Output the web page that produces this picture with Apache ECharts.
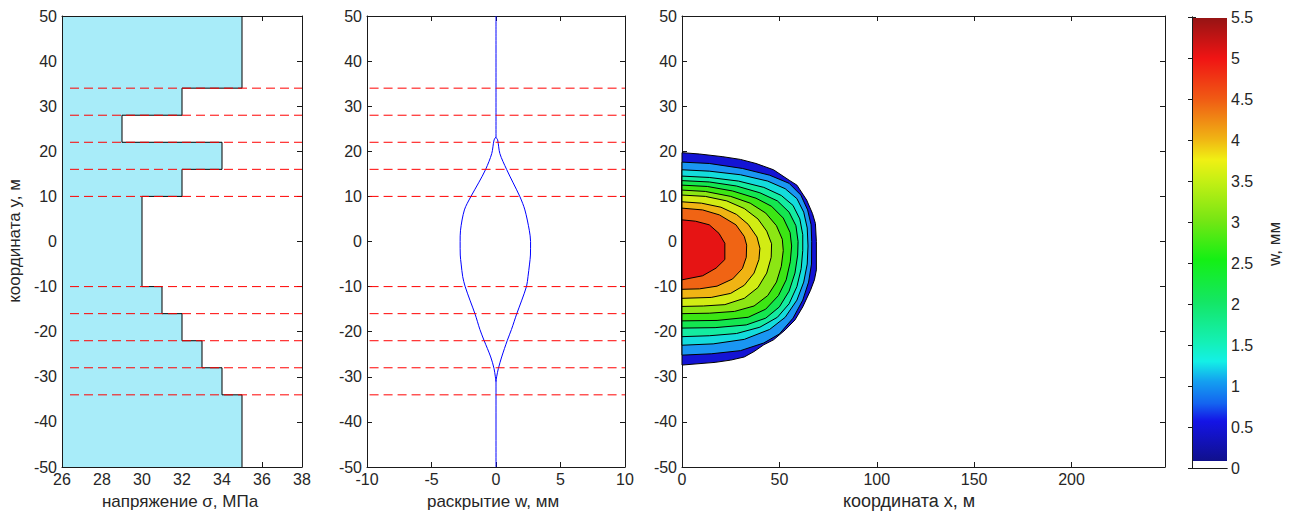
<!DOCTYPE html>
<html><head><meta charset="utf-8">
<script src="https://cdn.jsdelivr.net/npm/echarts@6/dist/echarts.min.js"></script>
<style>html,body{margin:0;padding:0;background:#fff}#c{width:1302px;height:524px}</style>
</head><body><div id="c"></div>
<script>
// ---- panel 1: stress in layers
const layerTop = [50, 34, 28, 22, 16, 10, -10, -16, -22, -28, -34];
const layerBot = [34, 28, 22, 16, 10, -10, -16, -22, -28, -34, -50];
const sigma    = [35, 32, 29, 34, 32, 30, 31, 32, 33, 34, 35];
const bounds   = [34, 28, 22, 16, 10, -10, -16, -22, -28, -34];

// ---- panel 2: crack opening profile
const yProf = [23.2, 22.5, 19.5, 16, 13, 9.9, 7, 2.5, 0, -3, -5, -7.8, -9.9, -13, -16.1, -19.5, -21.9, -25.6, -28.2, -30, -31.1];
const wRight = [0, 0.13, 0.3, 0.82, 1.33, 1.86, 2.24, 2.58, 2.68, 2.67, 2.6, 2.48, 2.37, 2.0, 1.6, 1.2, 0.88, 0.44, 0.18, 0.05, 0];
const wLeft  = [0, -0.15, -0.33, -0.8, -1.35, -1.96, -2.45, -2.75, -2.78, -2.77, -2.7, -2.58, -2.4, -2.02, -1.62, -1.25, -0.93, -0.41, -0.15, -0.05, 0];

// ---- panel 3: filled contours of w (x, y points of each level line)
const levels = [0.1, 0.5, 1, 1.5, 2, 2.5, 3, 3.5, 4, 4.5, 5];
const bandColors = ['#1414d4', '#1a96f2', '#14dcdc', '#14eca0', '#14e650', '#3ce614', '#8ce614', '#d2ec14', '#f0b414', '#f06414', '#e61414'];
const lvl01 = [[0,19.7],[9,19.4],[21,18.8],[30,18.2],[38,17.3],[47,15.9],[55,13.6],[59,12.5],[64,9.2],[67,6.2],[68.5,4],[69,0],[69,-6.3],[68,-8.5],[66,-10.8],[62,-14.5],[58,-17.4],[53,-19.6],[47,-21.8],[42,-22.9],[37,-24.4],[32,-25.6],[25,-26.3],[17,-26.8],[0,-27.4]];
const lvl05 = [[0,17.6],[14,17.3],[31,16.2],[45,14.7],[55,12.9],[61,10.3],[64.5,7],[66.3,3.7],[66.6,0],[66.5,-5],[65,-9],[62,-13],[57,-17],[50,-20.5],[42,-22.5],[30,-24.2],[15,-24.9],[0,-25.2]];
const lvl10 = [[0,15.9],[14,15.6],[30,14.8],[44,13.4],[53,11.7],[59,9.5],[62.5,6.5],[64.3,3],[64.7,-1],[64.3,-5],[62.5,-9],[59,-13],[53,-16.8],[45,-19.5],[32,-21.7],[16,-22.7],[0,-23.0]];
const lvl15 = [[0,14.5],[14,14.2],[29,13.4],[42,12],[51,10.2],[57,8],[60.5,5],[62,1.5],[62,-2],[61.2,-6],[59,-10],[55,-13.8],[49,-16.8],[40,-19],[28,-20.4],[14,-20.9],[0,-21.1]];
const lvl20 = [[0,13.5],[14,13.2],[28,12.3],[40,10.8],[49,9],[55,6.5],[58.5,3.5],[59.6,0],[59.4,-3],[58,-7],[55,-11],[50,-14.5],[43,-17],[33,-18.5],[17,-19.1],[0,-19.2]];
const lvl25 = [[0,12.5],[13,12.2],[26,11.2],[38,9.6],[46,7.8],[52,5.2],[55.5,2],[56.3,-1],[55.6,-4.5],[53.5,-8.5],[49.5,-12],[43,-15],[34,-16.8],[18,-17.5],[0,-17.6]];
const lvl30 = [[0,11.4],[12,11.1],[25,10],[35,8.5],[43,6.3],[48.5,3.5],[51.5,0.5],[52,-2],[51,-5.5],[48.5,-9],[44,-12],[37,-14.3],[27,-15.5],[14,-15.9],[0,-16.0]];
const lvl35 = [[0,10.3],[12,10],[23,9],[32,7.3],[39,5],[43.5,2.3],[46,-0.5],[45.8,-3.5],[43.5,-7],[39,-10.2],[32,-12.6],[22,-14],[11,-14.3],[0,-14.4]];
const lvl40 = [[0,8.8],[10,8.5],[20,7.6],[28,6],[34,3.8],[38.5,1],[40,-1.5],[39.5,-4],[37,-7],[32,-9.7],[25,-11.5],[15,-12.4],[0,-12.6]];
const lvl45 = [[0,7.4],[10.6,7],[19.2,5.9],[27.7,3.7],[32,1.1],[33.2,-0.8],[33,-3.5],[31,-6],[26,-8.3],[18,-9.9],[9,-10.5],[0,-10.6]];
const lvl50 = [[0,4.8],[7,4.5],[14,3.7],[19,1.8],[22,-0.4],[22,-4],[17.5,-5.9],[10.6,-7.6],[0,-8.5]];
const contourLines = [lvl01, lvl05, lvl10, lvl15, lvl20, lvl25, lvl30, lvl35, lvl40, lvl45, lvl50];

// colorbar map (fraction of 0..5.5, colour)
const cmapStops = [[0,'#10108c'],[0.09,'#1414e6'],[0.13,'#1464f0'],[0.18,'#14a0f0'],[0.225,'#14f0e6'],[0.27,'#14f0b4'],[0.36,'#14e664'],[0.455,'#14f014'],[0.545,'#78e614'],[0.636,'#c8f014'],[0.68,'#f0f014'],[0.727,'#f0b414'],[0.818,'#f05a14'],[0.909,'#f01414'],[1,'#961414']];

const FONT = '"Liberation Sans", Arial, sans-serif';
const FS = 16, FT = 17;
const AX = '#1a1a1a', TXT = '#262626', FILL = '#a8ecf9';
const lab = {color: TXT, fontFamily: FONT, fontSize: FS};

function axes(kind, grid, min, max, interval, showLab, fmt){
  const base = {type:'value', gridIndex:grid, min, max, interval, splitLine:{show:false},
    axisLine:{show:true, onZero:false, lineStyle:{color:AX, width:1}},
    axisTick:{show:true, inside:true, length:5, lineStyle:{color:AX}}};
  const a = Object.assign({}, base, {position: kind === 'x' ? 'bottom' : 'left',
    axisLabel: Object.assign({show: showLab, margin: kind === 'x' ? 4 : 5}, lab, fmt ? {formatter: fmt} : {})});
  const b = Object.assign({}, base, {position: kind === 'x' ? 'top' : 'right', axisLabel:{show:false}});
  return [a, b];
}

const gridBase = {top:16, height:451, containLabel:false, outerBoundsMode:'none'};
const grids = [
  Object.assign({left:62, width:240}, gridBase),
  Object.assign({left:367, width:258}, gridBase),
  Object.assign({left:682, width:483}, gridBase),
  Object.assign({left:1192, width:35}, gridBase, {top:17})
];

const xAxes = [
  ...axes('x', 0, 26, 38, 2, true),
  ...axes('x', 1, -10, 10, 5, true),
  ...axes('x', 2, 0, 248, 50, true, v => (v % 50 === 0 ? String(v) : '')),
  {type:'value', gridIndex:3, min:0, max:1, position:'bottom', splitLine:{show:false}, axisTick:{show:false}, axisLabel:{show:false}, axisLine:{show:true, lineStyle:{color:AX}}},
  {type:'value', gridIndex:3, min:0, max:1, position:'top', splitLine:{show:false}, axisTick:{show:false}, axisLabel:{show:false}, axisLine:{show:true, lineStyle:{color:AX}}}
];
const yAxes = [
  ...axes('y', 0, -50, 50, 10, true),
  ...axes('y', 1, -50, 50, 10, true),
  ...axes('y', 2, -50, 50, 10, true),
  {type:'value', gridIndex:3, min:0, max:5.5, interval:0.5, position:'left', splitLine:{show:false}, axisLabel:{show:false},
    axisLine:{show:true, lineStyle:{color:AX}}, axisTick:{show:true, inside:true, length:4, lineStyle:{color:AX}}},
  {type:'value', gridIndex:3, min:0, max:5.5, interval:0.5, position:'right', splitLine:{show:false},
    axisLabel: Object.assign({show:true, margin:4}, lab),
    axisLine:{show:true, lineStyle:{color:AX}}, axisTick:{show:true, inside:true, length:4, lineStyle:{color:AX}}}
];

const stepPts = [];
sigma.forEach((s, i) => { stepPts.push([s, layerTop[i]], [s, layerBot[i]]); });

const rightBranch = [[0, 50]].concat(yProf.map((y, i) => [wRight[i], y]), [[0, -50]]);
const leftBranch = yProf.map((y, i) => [wLeft[i], y]);

// red dashed layer boundaries, one line series each
const dashLines = (xi, yi, x0, x1) => bounds.map(v => ({
  type:'line', xAxisIndex:xi, yAxisIndex:yi, z:5, silent:true, showSymbol:false,
  data:[[x0, v], [x1, v]],
  lineStyle:{color:'#ff0000', width:1, type:[9, 5]}
}));

const option = {
  animation:false,
  grid: grids, xAxis: xAxes, yAxis: yAxes,
  series: [
    {type:'custom', xAxisIndex:0, yAxisIndex:0, z:1, silent:true,
      data: sigma.map((s, i) => [s, layerBot[i], layerTop[i]]),
      renderItem: (params, api) => {
        const s = api.value(0), lo = api.value(1), hi = api.value(2);
        const a = api.coord([26, hi]), b = api.coord([s, lo]);
        const x0 = Math.round(a[0]) + 1, y0 = Math.round(a[1]) + (hi >= 50 ? 1 : 0);
        const x1 = Math.round(b[0]), y1 = Math.round(b[1]);
        return {type:'rect', shape:{x:x0, y:y0, width:x1 - x0, height:y1 - y0}, style:{fill:FILL}};
      }},
    {type:'line', xAxisIndex:0, yAxisIndex:0, z:2, data: stepPts, showSymbol:false, silent:true,
      lineStyle:{color:'#000', width:1}},
    ...dashLines(0, 0, 26.4, 38),
    {type:'line', xAxisIndex:2, yAxisIndex:2, z:2, data: rightBranch, showSymbol:false, silent:true, smooth:0.3,
      lineStyle:{color:'#0000ff', width:1}},
    {type:'line', xAxisIndex:2, yAxisIndex:2, z:2, data: leftBranch, showSymbol:false, silent:true, smooth:0.3,
      lineStyle:{color:'#0000ff', width:1}},
    ...dashLines(2, 2, -9.8, 10),
    {type:'custom', xAxisIndex:4, yAxisIndex:4, z:2, silent:true,
      data: levels.map((l, i) => [i, l]),
      renderItem: (params, api) => {
        const i = params.dataIndex;
        const pts = contourLines[i].map(p => api.coord(p));
        return {type:'polygon', shape:{points:pts}, style:{fill:bandColors[i], stroke:'#000', lineWidth:1}};
      }},
    {type:'custom', xAxisIndex:6, yAxisIndex:7, z:2, silent:true,
      data: [[0, 5.5]],
      renderItem: (params, api) => {
        const top = api.coord([1, 5.5]), low = api.coord([0, 0.086]), base = api.coord([0, 0]);
        const x0 = Math.round(low[0]) + 1, x1 = Math.round(top[0]);
        const yT = Math.round(top[1]) + 1, yL = Math.round(low[1]), yB = Math.round(base[1]);
        return {type:'group', children:[
          {type:'rect', shape:{x:x0, y:yL, width:x1 - x0, height:yB - yL}, style:{fill:'#ffffff'}},
          {type:'rect', shape:{x:x0, y:yT, width:x1 - x0, height:yL - yT},
            style:{fill: new echarts.graphic.LinearGradient(0, 1, 0, 0, cmapStops.map(s => ({offset:s[0], color:s[1]})))}}
        ]};
      }}
  ],
  graphic: [
    {type:'text', x:180, y:501, style:{text:'напряжение σ, МПа', align:'center', verticalAlign:'middle', fill:TXT, font: FT + 'px ' + FONT}},
    {type:'text', x:493, y:501, style:{text:'раскрытие w, мм', align:'center', verticalAlign:'middle', fill:TXT, font: FT + 'px ' + FONT}},
    {type:'text', x:909, y:501, style:{text:'координата x, м', align:'center', verticalAlign:'middle', fill:TXT, font: (FT + 1) + 'px ' + FONT}},
    {type:'text', x:14, y:241, rotation:Math.PI / 2, style:{text:'координата y, м', align:'center', verticalAlign:'middle', fill:TXT, font: FT + 'px ' + FONT}},
    {type:'text', x:1274, y:244, rotation:Math.PI / 2, style:{text:'w, мм', align:'center', verticalAlign:'middle', fill:TXT, font: FT + 'px ' + FONT}}
  ]
};

const chart = echarts.init(document.getElementById('c'), null, {renderer:'svg'});
chart.setOption(option);
</script>
</body></html>
